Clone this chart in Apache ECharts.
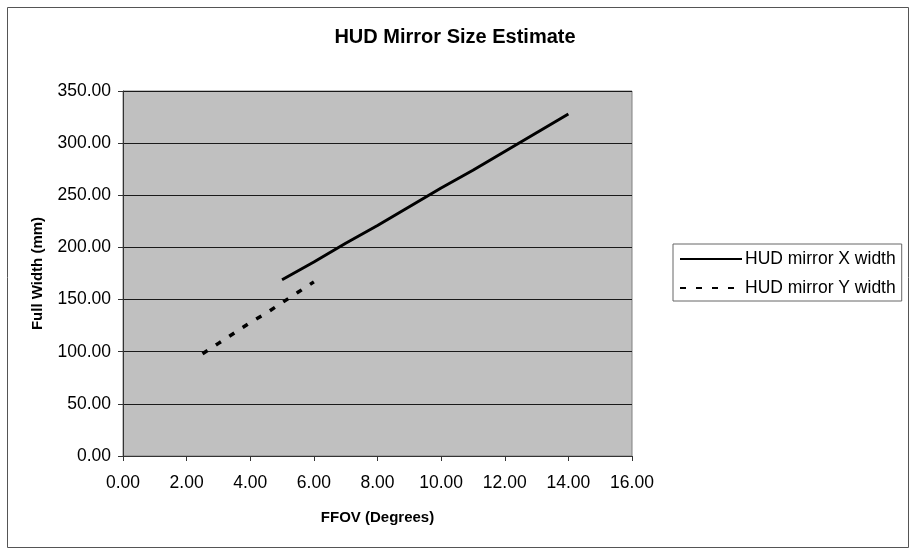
<!DOCTYPE html>
<html>
<head>
<meta charset="utf-8">
<script src="https://cdn.jsdelivr.net/npm/echarts@6/dist/echarts.min.js"></script>
<style>
html,body{margin:0;padding:0;background:#fff;}
#c{width:910px;height:550px;}
</style>
</head>
<body>
<div id="c"></div>
<script>
var seriesXName = 'HUD mirror X width';
var seriesYName = 'HUD mirror Y width';
var xWidthFov = [5, 6, 7, 8, 9, 10, 11, 12, 13, 14];
var xWidthVal = [169, 186, 204, 221, 239, 257, 274, 292, 310, 328];
var yWidthFov = [2.5, 3, 3.5, 4, 4.5, 5, 5.5, 6];
var yWidthVal = [98, 108, 118, 128, 137, 147, 157, 167];

function pairs(xs, ys){ return xs.map(function(x,i){ return [x, ys[i]]; }); }

var chart = echarts.init(document.getElementById('c'));
var font = 'Liberation Sans, Arial, sans-serif';
chart.setOption({
  backgroundColor: '#fff',
  animation: false,
  graphic: [{
    type: 'rect', left: 5, top: 5, z: -10,
    shape: {width: 901, height: 540},
    style: {fill: 'none', stroke: '#555', lineWidth: 1}
  }],
  title: {
    text: 'HUD Mirror Size Estimate',
    left: 'center', top: 22,
    textStyle: {fontFamily: font, fontSize: 20, fontWeight: 'bold', color: '#000'}
  },
  grid: {
    left: 123, right: 278, top: 91, bottom: 94,
    show: true, backgroundColor: '#c0c0c0', borderColor: '#808080', borderWidth: 1
  },
  legend: {
    orient: 'vertical',
    left: 673, top: 244,
    itemWidth: 62, itemHeight: 10, itemGap: 11,
    padding: [6, 6, 4, 6],
    borderColor: '#666', borderWidth: 1,
    itemStyle: {opacity: 0},
    textStyle: {fontFamily: font, fontSize: 17.5, color: '#000', padding: [0,0,0,-2]},
    data: [seriesXName, seriesYName]
  },
  xAxis: {
    type: 'value', min: 0, max: 16, interval: 2,
    name: 'FFOV (Degrees)', nameLocation: 'middle', nameGap: 54,
    nameTextStyle: {fontFamily: font, fontSize: 15, fontWeight: 'bold', color: '#000'},
    axisLine: {show: true, lineStyle: {color: '#333', width: 1}},
    axisTick: {show: true, inside: false, length: 5, lineStyle: {color: '#333'}},
    axisLabel: {fontFamily: font, fontSize: 17.5, color: '#000', margin: 18,
      formatter: function(v){ return v.toFixed(2); }},
    splitLine: {show: false}
  },
  yAxis: {
    type: 'value', min: 0, max: 350, interval: 50,
    name: 'Full Width (mm)', nameLocation: 'middle', nameGap: 78, nameRotate: 90,
    nameTextStyle: {fontFamily: font, fontSize: 15, fontWeight: 'bold', color: '#000'},
    axisLine: {show: true, lineStyle: {color: '#333', width: 1}},
    axisTick: {show: true, inside: false, length: 5, lineStyle: {color: '#333'}},
    axisLabel: {fontFamily: font, fontSize: 17.5, color: '#000', margin: 12,
      formatter: function(v){ return v.toFixed(2); }},
    splitLine: {show: true, lineStyle: {color: '#1a1a1a', width: 1}}
  },
  series: [{
    name: seriesXName, type: 'line', symbol: 'none',
    data: pairs(xWidthFov, xWidthVal),
    lineStyle: {color: '#000', width: 3}, itemStyle: {color: '#000'}
  }, {
    name: seriesYName, type: 'line', symbol: 'none',
    data: pairs(yWidthFov, yWidthVal),
    lineStyle: {color: '#000', width: 3.5, type: [6, 10]}, itemStyle: {color: '#000'}
  }]
});
</script>
</body>
</html>
